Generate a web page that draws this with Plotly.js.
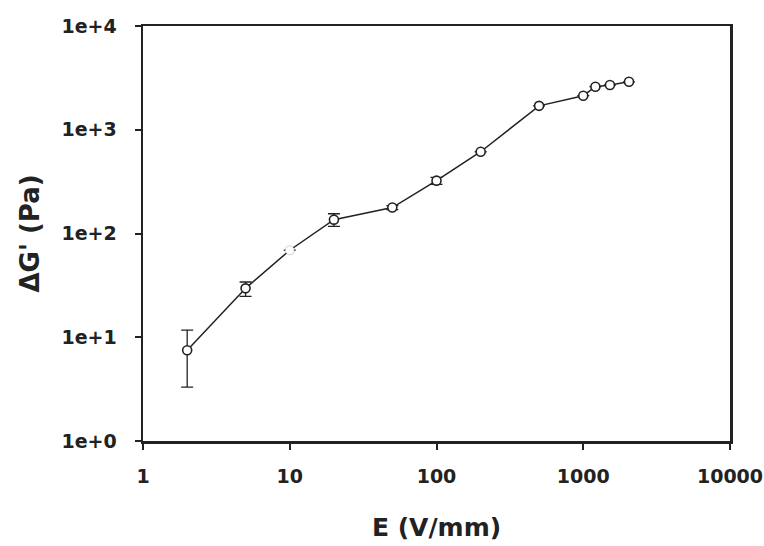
<!DOCTYPE html>
<html>
<head>
<meta charset="utf-8">
<script src="https://cdn.plot.ly/plotly-3.0.1.min.js"></script>
<style>html,body{margin:0;padding:0;background:#fff;}#chart{width:764px;height:546px;}</style>
</head>
<body>
<div id="chart"></div>
<script>
const fieldE = [2, 5, 10, 20, 50, 100, 200, 500, 1000, 1210, 1520, 2050];
const deltaG = [7.5, 29.6, 69, 136, 178, 323, 614, 1700, 2130, 2600, 2700, 2900];
const errPlus = [4.2, 4.5, 0, 19, 8, 25, 0, 0, 0, 0, 0, 0];
const errMinus = [4.2, 4.8, 0, 19, 8, 25, 0, 0, 0, 0, 0, 0];
const xTickVals = [1, 10, 100, 1000, 10000];
const xTickText = ['1', '10', '100', '1000', '10000'];
const yTickVals = [1, 10, 100, 1000, 10000];
const yTickText = ['1e+0', '1e+1', '1e+2', '1e+3', '1e+4'];

const markerLine = fieldE.map(v => v === 10 ? 'rgba(0,0,0,0.12)' : '#222');

const trace = {
  x: fieldE, y: deltaG, type: 'scatter', mode: 'lines+markers',
  line: {color: '#222', width: 1.5},
  marker: {symbol: 'circle', size: 9, color: '#fff', line: {color: markerLine, width: 1.6}},
  error_y: {type: 'data', symmetric: false, array: errPlus, arrayminus: errMinus,
            color: '#222', thickness: 1.3, width: 6},
  showlegend: false
};

const FAM = 'DejaVu Sans, Arial, sans-serif';
const axisFont = {family: FAM, size: 19, color: '#222', weight: 'bold'};
const layout = {
  width: 764, height: 546,
  margin: {l: 143, r: 34, t: 26, b: 105},
  paper_bgcolor: '#fff', plot_bgcolor: '#fff',
  xaxis: {
    type: 'log', range: [0, 4], tickvals: xTickVals, ticktext: xTickText,
    showgrid: false, zeroline: false, showline: true, linecolor: '#222', linewidth: 2.5,
    mirror: true, ticks: 'outside', ticklen: 6, tickwidth: 2, tickcolor: '#222',
    tickfont: axisFont, ticklabelstandoff: 11,
    title: {text: 'E (V/mm)', font: {family: FAM, size: 25, color: '#222', weight: 'bold'}, standoff: 32}
  },
  yaxis: {
    type: 'log', range: [0, 4], tickvals: yTickVals, ticktext: yTickText,
    showgrid: false, zeroline: false, showline: true, linecolor: '#222', linewidth: 2.5,
    mirror: true, ticks: 'outside', ticklen: 6, tickwidth: 2, tickcolor: '#222',
    tickfont: axisFont, ticklabelstandoff: 14,
    title: {text: "ΔG' (Pa)", font: {family: FAM, size: 26, color: '#222', weight: 'bold'}, standoff: 15}
  }
};

Plotly.newPlot('chart', [trace], layout, {displayModeBar: false, staticPlot: true});
</script>
</body>
</html>
